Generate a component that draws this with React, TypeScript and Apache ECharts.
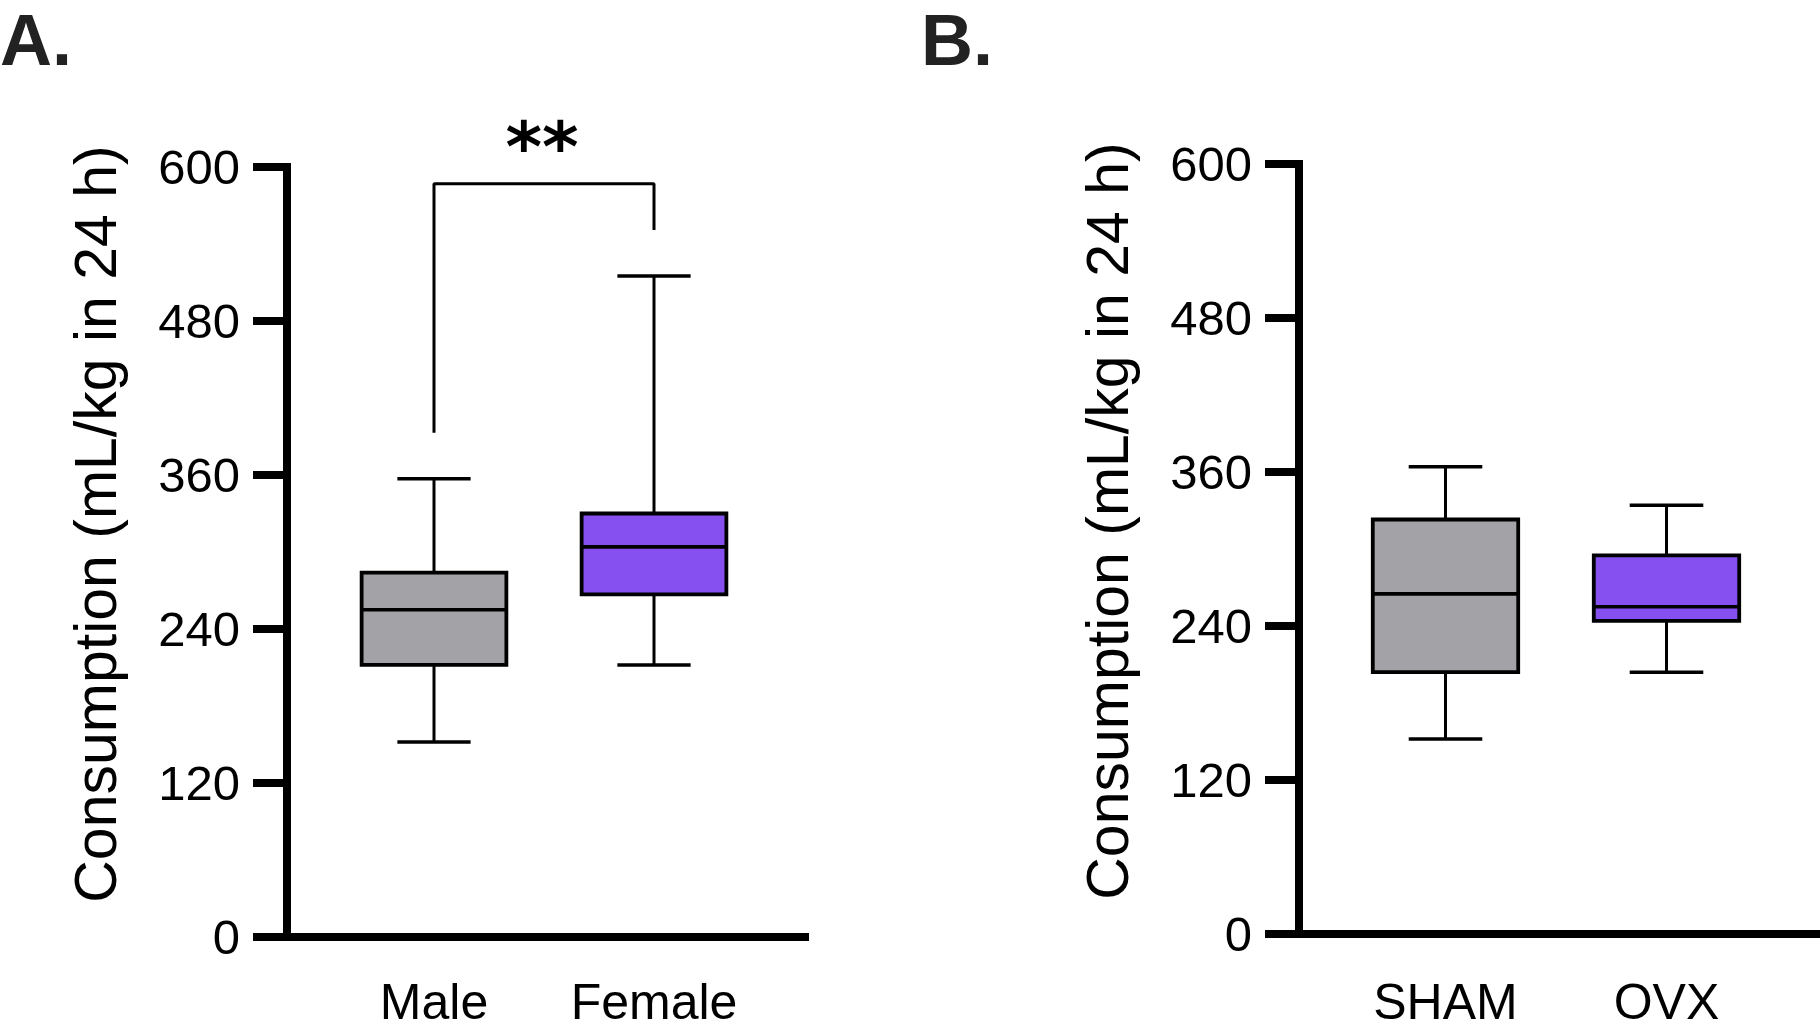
import { useEffect, useRef } from 'react';
import * as echarts from 'echarts';

// ---- data ----
const yTicks = [0, 120, 240, 360, 480, 600];
const yTitle = 'Consumption (mL/kg in 24 h)';

const groupsA = ['Male', 'Female'];
const lowA = [152, 212];
const q1A = [212, 267];
const medA = [255, 304];
const q3A = [284, 330];
const highA = [357, 515];

const groupsB = ['SHAM', 'OVX'];
const lowB = [152, 204];
const q1B = [204, 244];
const medB = [265, 255];
const q3B = [323, 295];
const highB = [364, 334];

const bracketIdxA = [0, 0, 1, 1];
const bracketValA = [393, 587, 587, 551];
const sigLabelA = '**';

const panelLabels = ['A.', 'B.'];
const boxColors = ['#a3a2a7', '#8650f0'];

const FONT = '"Liberation Sans", Arial, Helvetica, sans-serif';

function boxData(low: number[], q1: number[], med: number[], q3: number[], high: number[]) {
  return low.map((_, i) => [i, low[i], q1[i], med[i], q3[i], high[i]]);
}

function renderBox(params: any, api: any) {
  const x = api.value(0);
  const lo = api.coord([x, api.value(1)]);
  const b1 = api.coord([x, api.value(2)]);
  const md = api.coord([x, api.value(3)]);
  const b3 = api.coord([x, api.value(4)]);
  const hi = api.coord([x, api.value(5)]);
  const band = api.size([1, 0])[0];
  const bw = band * 0.658;
  const cw = band * 0.333;
  const cx = lo[0];
  const stroke = { stroke: '#000', lineWidth: 3 };
  return {
    type: 'group',
    children: [
      { type: 'line', shape: { x1: cx, y1: hi[1], x2: cx, y2: b3[1] }, style: stroke },
      { type: 'line', shape: { x1: cx, y1: b1[1], x2: cx, y2: lo[1] }, style: stroke },
      { type: 'line', shape: { x1: cx - cw / 2, y1: hi[1], x2: cx + cw / 2, y2: hi[1] }, style: { stroke: '#000', lineWidth: 3.5 } },
      { type: 'line', shape: { x1: cx - cw / 2, y1: lo[1], x2: cx + cw / 2, y2: lo[1] }, style: { stroke: '#000', lineWidth: 3.5 } },
      {
        type: 'rect',
        shape: { x: cx - bw / 2, y: b3[1], width: bw, height: b1[1] - b3[1] },
        style: { fill: boxColors[params.dataIndex], stroke: '#000', lineWidth: 3.8 },
      },
      { type: 'line', shape: { x1: cx - bw / 2, y1: md[1], x2: cx + bw / 2, y2: md[1] }, style: { stroke: '#000', lineWidth: 3.6 } },
    ],
  };
}

function outerAxes(gridIndex: number) {
  const x = {
    type: 'value',
    gridIndex,
    min: 0,
    max: 1,
    axisLine: { show: true, lineStyle: { color: '#000', width: 8, cap: 'square' } },
    axisTick: { show: false },
    axisLabel: { show: false },
    splitLine: { show: false },
  };
  const y = {
    type: 'value',
    gridIndex,
    min: yTicks[0],
    max: yTicks[yTicks.length - 1],
    interval: yTicks[1] - yTicks[0],
    axisLine: { show: true, lineStyle: { color: '#000', width: 8, cap: 'square' } },
    axisTick: { show: true, length: 34, lineStyle: { color: '#000', width: 8 } },
    axisLabel: {
      show: true,
      margin: 47,
      fontSize: 49,
      fontFamily: FONT,
      color: '#000',
      padding: [0, 0, 10, 0],
    },
    splitLine: { show: false },
    name: yTitle,
    nameLocation: 'middle',
    nameRotate: 90,
    nameGap: 162,
    nameTextStyle: { fontSize: 59, fontFamily: FONT, color: '#000', padding: [0, 0, 0, 56] },
  };
  return { x, y };
}

function innerAxes(gridIndex: number, cats: string[], margin: number) {
  const x = {
    type: 'category',
    gridIndex,
    data: cats,
    boundaryGap: true,
    axisLine: { show: false },
    axisTick: { show: false },
    axisLabel: {
      show: true,
      interval: 0,
      margin,
      fontSize: 50,
      lineHeight: 44,
      fontFamily: FONT,
      color: '#000',
      hideOverlap: false,
    },
    splitLine: { show: false },
  };
  const y = {
    type: 'value',
    gridIndex,
    min: yTicks[0],
    max: yTicks[yTicks.length - 1],
    show: false,
    splitLine: { show: false },
  };
  return { x, y };
}

export default function App() {
  const ref = useRef<HTMLDivElement>(null);
  useEffect(() => {
    if (!ref.current) return;
    const chart = echarts.init(ref.current, undefined, { renderer: 'svg' });
    const oA = outerAxes(0);
    const iA = innerAxes(1, groupsA, 43);
    const oB = outerAxes(2);
    const iB = innerAxes(3, groupsB, 46);
    const option: any = {
      animation: false,
      backgroundColor: '#fff',
      grid: [
        { left: 287, top: 167, width: 518, height: 770, outerBoundsMode: 'none' },
        { left: 324, top: 167, width: 440, height: 770, outerBoundsMode: 'none' },
        { left: 1299, top: 164, width: 519, height: 770, outerBoundsMode: 'none' },
        { left: 1335, top: 164, width: 442, height: 770, outerBoundsMode: 'none' },
      ],
      xAxis: [oA.x, iA.x, oB.x, iB.x],
      yAxis: [oA.y, iA.y, oB.y, iB.y],
      series: [
        {
          type: 'custom',
          xAxisIndex: 1,
          yAxisIndex: 1,
          renderItem: renderBox,
          data: boxData(lowA, q1A, medA, q3A, highA),
          silent: true,
        },
        {
          type: 'custom',
          xAxisIndex: 3,
          yAxisIndex: 3,
          renderItem: renderBox,
          data: boxData(lowB, q1B, medB, q3B, highB),
          silent: true,
        },
        {
          type: 'line',
          xAxisIndex: 1,
          yAxisIndex: 1,
          data: bracketIdxA.map((x, i) => [x, bracketValA[i]]),
          symbol: 'none',
          lineStyle: { color: '#000', width: 3 },
          silent: true,
        },
      ],
    };
    chart.setOption(option);

    const pL = chart.convertToPixel({ gridIndex: 1 } as any, [bracketIdxA[1], bracketValA[1]]) as number[];
    const pR = chart.convertToPixel({ gridIndex: 1 } as any, [bracketIdxA[2], bracketValA[2]]) as number[];
    const letterStyle = {
      font: `bold 72px ${FONT}`,
      lineHeight: 72,
      fill: '#222',
      align: 'left',
      verticalAlign: 'top',
    };
    chart.setOption({
      graphic: [
        { type: 'text', x: 0, y: 4, style: { ...letterStyle, text: panelLabels[0] } },
        { type: 'text', x: 921, y: 4, style: { ...letterStyle, text: panelLabels[1] } },
        {
          type: 'text',
          x: (pL[0] + pR[0]) / 2 - 2,
          y: pL[1] - 37,
          style: {
            text: sigLabelA,
            font: 'bold 70px "DejaVu Sans", sans-serif',
            fill: '#000',
            align: 'center',
            verticalAlign: 'middle',
          },
        },
      ],
    });
    return () => chart.dispose();
  }, []);
  return (
    <div
      ref={ref}
      style={{ position: 'fixed', left: 0, top: 0, width: 1820, height: 1030, background: '#fff' }}
    />
  );
}
